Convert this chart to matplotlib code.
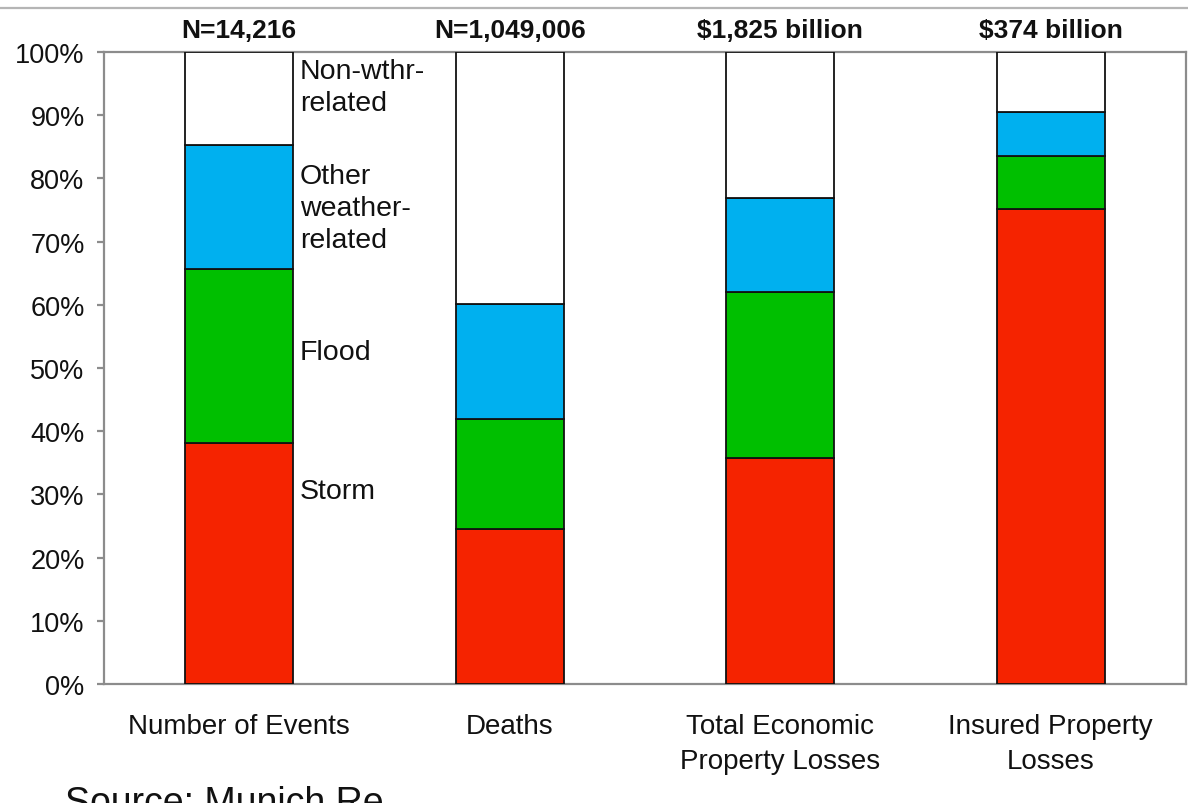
import matplotlib
matplotlib.use("Agg")
import matplotlib.pyplot as plt
from matplotlib.lines import Line2D
import numpy as np

plt.rcParams["font.family"] = ["Liberation Sans", "DejaVu Sans"]

CATEGORIES = ["Number of Events", "Deaths", "Total Economic\nProperty Losses", "Insured Property\nLosses"]
TOTALS = ["N=14,216", "N=1,049,006", "$1,825 billion", "$374 billion"]

# shares in percent, stacked bottom to top
STORM = [38.1, 24.6, 35.7, 75.2]
FLOOD = [27.6, 17.3, 26.4, 8.4]
OTHER_WEATHER = [19.6, 18.2, 14.8, 6.9]
NON_WEATHER = [14.7, 39.9, 23.1, 9.5]

SEGMENTS = [
    ("Storm", STORM, "#F52300"),
    ("Flood", FLOOD, "#00BF00"),
    ("Other\nweather-\nrelated", OTHER_WEATHER, "#00B0EF"),
    ("Non-wthr-\nrelated", NON_WEATHER, "#FFFFFF"),
]
# vertical spot of each series name next to the first bar
LABEL_Y = [30.5, 52.6, 75.3, 94.4]

fig = plt.figure(figsize=(11.88, 8.04), dpi=100)
ax = fig.add_axes([104 / 1188, 119 / 804, 1082 / 1188, 632 / 804])

x = np.arange(len(CATEGORIES))
bottom = np.zeros(len(CATEGORIES))
width = 0.4
for (label, values, color), label_y in zip(SEGMENTS, LABEL_Y):
    vals = np.array(values)
    ax.bar(x, vals, width, bottom=bottom, color=color, edgecolor="#111111", linewidth=1.3, zorder=3)
    ax.text(x[0] + width / 2 + 0.025, label_y, label, fontsize=20.5, ha="left", va="center",
            linespacing=1.3, color="#111111")
    bottom += vals

for xi, total in zip(x, TOTALS):
    ax.text(xi, 103.5, total, fontsize=19, fontweight="bold", ha="center", va="center", color="#111111")

ax.set_xlim(-0.5, 3.5)
ax.set_ylim(0, 100)
ax.set_yticks(range(0, 101, 10))
ax.set_yticklabels([f"{v}%" for v in range(0, 101, 10)])
ax.set_xticks(x)
ax.set_xticklabels(CATEGORIES, linespacing=1.45)

for spine in ax.spines.values():
    spine.set_color("#8c8c8c")
    spine.set_linewidth(1.6)
ax.tick_params(axis="y", length=5, width=1.6, color="#8c8c8c", pad=9, labelsize=19.5, labelcolor="#111111")
ax.tick_params(axis="x", length=0, pad=21, labelsize=20, labelcolor="#111111")

fig.add_artist(Line2D([0, 1], [1 - 9 / 804, 1 - 9 / 804], color="#b5b5b5", linewidth=1.6))
fig.text(65 / 1188, -10 / 804, "Source: Munich Re", fontsize=27, ha="left", va="baseline", color="#111111")

fig.savefig("out.png", dpi=100, facecolor="white")
